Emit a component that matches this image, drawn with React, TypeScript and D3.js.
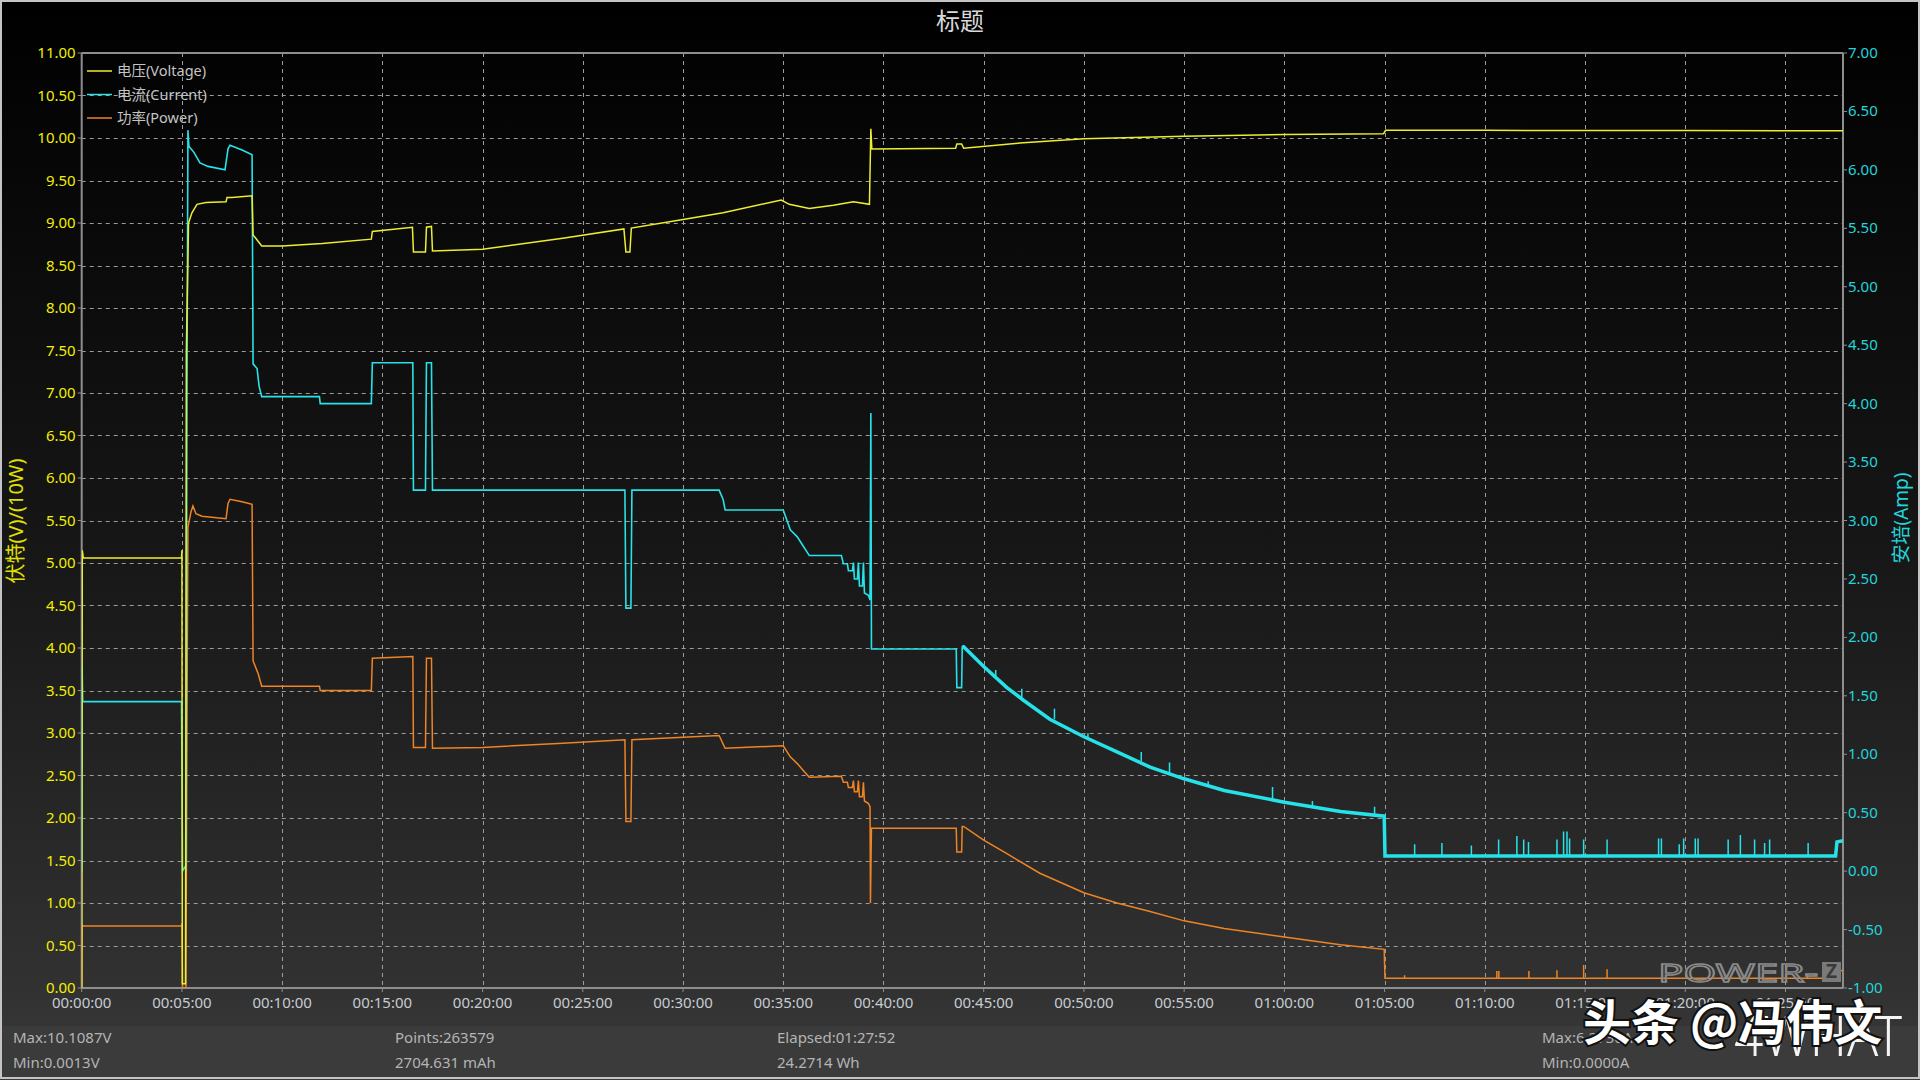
import * as d3 from "d3";

// ---- data (time in minutes) ----
const voltage: [number, number][] = [
  [0, 0], [0.03, 5.15], [0.08, 5.06], [4.98, 5.06], [5.0, 5.15], [5.02, 0.05], [5.18, 0.05],
  [5.22, 7.5], [5.28, 8.3], [5.33, 9.0], [5.5, 9.12], [5.75, 9.22], [6.2, 9.24], [7.2, 9.25],
  [7.25, 9.3], [7.5, 9.3], [8.5, 9.32], [8.55, 8.86], [8.75, 8.8], [8.98, 8.73], [10, 8.73],
  [12, 8.76], [14.45, 8.81], [14.5, 8.9], [16.5, 8.95], [16.55, 8.66], [17.15, 8.66],
  [17.2, 8.95], [17.45, 8.96], [17.5, 8.67], [20, 8.69], [24, 8.82], [27.05, 8.93],
  [27.15, 8.66], [27.35, 8.66], [27.42, 8.94], [30, 9.04], [32, 9.12], [34.9, 9.27],
  [35.3, 9.22], [36.3, 9.17], [37.5, 9.21], [38.5, 9.25], [39.3, 9.22], [39.37, 10.1087],
  [39.42, 9.87], [43.6, 9.88], [43.66, 9.93], [43.9, 9.93], [44.0, 9.88], [46.8, 9.94],
  [50, 9.99], [55, 10.02], [60, 10.04], [64.95, 10.05], [65.05, 10.09], [70, 10.09],
  [80, 10.088], [87.87, 10.085],
];

const current: [number, number][] = [
  [0, 0], [0.02, 1.75], [0.05, 1.45], [4.98, 1.45], [5.03, 0.0], [5.2, 0.05], [5.25, 4.0],
  [5.3, 6.34], [5.35, 6.2], [5.45, 6.18], [5.6, 6.15], [5.9, 6.06], [6.3, 6.03], [7.15, 6.0],
  [7.3, 6.18], [7.4, 6.21], [8.0, 6.17], [8.5, 6.13], [8.55, 4.34], [8.75, 4.3], [8.85, 4.15],
  [8.98, 4.06], [11.86, 4.06], [11.9, 4.0], [14.45, 4.0], [14.5, 4.35], [16.52, 4.35],
  [16.55, 3.26], [17.15, 3.26], [17.2, 4.35], [17.45, 4.35], [17.5, 3.26], [27.1, 3.26],
  [27.15, 2.25], [27.4, 2.25], [27.45, 3.26], [31.8, 3.26], [32.0, 3.18], [32.1, 3.09],
  [35.0, 3.09], [35.35, 2.92], [35.7, 2.86], [36.0, 2.78], [36.3, 2.7], [37.9, 2.7],
  [38.0, 2.63], [38.2, 2.63], [38.25, 2.57], [38.45, 2.57], [38.5, 2.64], [38.55, 2.5],
  [38.7, 2.5], [38.75, 2.64], [38.8, 2.44], [38.95, 2.44], [39.0, 2.64], [39.05, 2.38],
  [39.25, 2.36], [39.33, 2.32], [39.37, 3.92], [39.4, 1.9], [43.63, 1.9], [43.66, 1.57],
  [43.9, 1.57], [43.93, 1.92], [44.0, 1.92], [45, 1.75], [46.16, 1.57], [47, 1.46],
  [48.3, 1.3], [50, 1.15], [51.65, 1.02], [53.3, 0.89], [55, 0.79], [57, 0.69], [60, 0.59],
  [62.8, 0.51], [64.98, 0.47], [65.02, 0.13], [87.5, 0.13], [87.57, 0.25], [87.87, 0.26],
];

// [time, low, high]
const currentSpikes: [number, number, number][] = [
  [45.6, 1.66, 1.72], [46.9, 1.48, 1.56], [48.53, 1.3, 1.39], [50.2, 1.13, 1.18],
  [52.86, 0.94, 1.02], [54.27, 0.84, 0.93], [56.2, 0.72, 0.77], [59.41, 0.61, 0.72],
  [61.4, 0.55, 0.6], [64.5, 0.48, 0.55], [66.5, 0.13, 0.23], [67.86, 0.13, 0.24],
  [69.33, 0.13, 0.22], [70.69, 0.13, 0.27], [71.6, 0.13, 0.3], [71.94, 0.13, 0.27],
  [72.18, 0.13, 0.25], [73.6, 0.13, 0.27], [73.93, 0.13, 0.34], [74.1, 0.13, 0.34],
  [74.23, 0.13, 0.28], [74.93, 0.13, 0.27], [76.1, 0.13, 0.27], [78.67, 0.13, 0.28],
  [78.81, 0.13, 0.28], [79.7, 0.13, 0.23], [79.92, 0.13, 0.28], [80.5, 0.13, 0.28],
  [80.64, 0.13, 0.28], [82.14, 0.13, 0.27], [82.75, 0.13, 0.31], [83.46, 0.13, 0.27],
  [83.96, 0.13, 0.24], [84.21, 0.13, 0.27], [86.13, 0.13, 0.24],
];

// power in units of 10 W (left axis)
const power: [number, number][] = [
  [0, 0], [0.03, 0.74], [0.08, 0.73], [4.98, 0.73], [5.0, 0.76], [5.03, 0], [5.2, 0],
  [5.25, 3.0], [5.3, 5.42], [5.45, 5.6], [5.55, 5.67], [5.7, 5.58], [6.0, 5.55], [7.2, 5.52],
  [7.3, 5.7], [7.4, 5.75], [8.0, 5.72], [8.5, 5.69], [8.55, 3.85], [8.8, 3.7], [8.98, 3.55],
  [11.86, 3.55], [11.9, 3.5], [14.45, 3.5], [14.5, 3.88], [16.52, 3.9], [16.55, 2.83],
  [17.15, 2.83], [17.2, 3.88], [17.45, 3.88], [17.5, 2.82], [20, 2.83], [24, 2.88],
  [27.1, 2.92], [27.15, 1.96], [27.4, 1.96], [27.45, 2.92], [31.8, 2.97], [32.1, 2.82],
  [35.0, 2.85], [35.35, 2.72], [35.7, 2.64], [36.0, 2.56], [36.3, 2.48], [37.9, 2.49],
  [38.0, 2.42], [38.2, 2.42], [38.25, 2.36], [38.45, 2.36], [38.5, 2.44], [38.55, 2.31],
  [38.7, 2.31], [38.75, 2.44], [38.8, 2.25], [38.95, 2.25], [39.0, 2.42], [39.05, 2.2],
  [39.25, 2.17], [39.33, 2.13], [39.35, 1.0], [39.4, 1.88], [43.63, 1.88], [43.66, 1.6],
  [43.9, 1.6], [43.93, 1.9], [44.0, 1.9], [45, 1.74], [46.16, 1.58], [47.8, 1.35],
  [50, 1.12], [51.65, 1.0], [53.3, 0.9], [55, 0.79], [57, 0.7], [60, 0.6], [62.8, 0.51],
  [64.98, 0.455], [65.02, 0.114], [87.6, 0.114], [87.7, 0.2], [87.87, 0.21],
];

const powerSpikes: [number, number, number][] = [
  [66.0, 0.114, 0.15], [70.6, 0.114, 0.2], [70.7, 0.114, 0.2], [72.2, 0.114, 0.2],
  [73.6, 0.114, 0.21], [74.93, 0.114, 0.27], [76.1, 0.114, 0.22], [86.1, 0.114, 0.15],
];

const legendItems = ["电压(Voltage)", "电流(Current)", "功率(Power)"];
const footerColumns = [
  ["Max:10.1087V", "Min:0.0013V"],
  ["Points:263579", "2704.631 mAh"],
  ["Elapsed:01:27:52", "24.2714 Wh"],
  ["Max:6.2730A", "Min:0.0000A"],
];
const elapsedMinutes = 87.87;

const W = 1920;
const H = 1080;
const plot = { left: 81.7, right: 1843, top: 53, bottom: 988 };
const FONT = "'Noto Sans', 'Noto Sans CJK SC', sans-serif";
const C_V = "#eeee30";
const C_I = "#27e2e8";
const C_P = "#ee8424";

const pad2 = (n: number) => String(n).padStart(2, "0");
const fmtTime = (m: number) => `${pad2(Math.floor(m / 60))}:${pad2(m % 60)}:00`;

export default function App() {
  const x = d3.scaleLinear().domain([0, elapsedMinutes]).range([plot.left, plot.right]);
  const yL = d3.scaleLinear().domain([0, 11]).range([plot.bottom, plot.top]);
  const yR = d3.scaleLinear().domain([-1, 7]).range([plot.bottom, plot.top]);

  const lineL = d3.line<[number, number]>().x((d) => x(d[0])).y((d) => yL(d[1]));
  const lineR = d3.line<[number, number]>().x((d) => x(d[0])).y((d) => yR(d[1]));

  const xTicks = d3.range(0, 90, 5);
  const lTicks = d3.range(0, 11.001, 0.5);
  const rTicks = d3.range(-1, 7.001, 0.5);

  const spikePath = (s: [number, number, number][], y: d3.ScaleLinear<number, number>) =>
    s.map((d) => `M${x(d[0])},${y(d[1])}V${y(d[2])}`).join("");

  // the charger's noisy taper section is drawn as a wider band
  const currentNoisy = current.filter((d) => d[0] >= 43.93);
  const footerX = [13, 395, 777, 1542];

  return (
    <div style={{ position: "absolute", left: 0, top: 0 }}>
      <svg width={W} height={H} style={{ display: "block", fontFamily: FONT }}>
        <defs>
          <linearGradient id="bg" x1="0" y1="0" x2="0" y2="1">
            <stop offset="0%" stopColor="#000000" />
            <stop offset="50%" stopColor="#161616" />
            <stop offset="91%" stopColor="#313131" />
            <stop offset="100%" stopColor="#3a3a3a" />
          </linearGradient>
          <clipPath id="plotClip">
            <rect x={plot.left} y={plot.top - 2} width={plot.right - plot.left} height={plot.bottom - plot.top + 2} />
          </clipPath>
        </defs>
        <rect x={0} y={0} width={W} height={H} fill="url(#bg)" />
        <rect x={0} y={1026} width={W} height={52} fill="#3b3b3b" />
        <rect x={1} y={1} width={W - 2} height={H - 3} fill="none" stroke="#c4c4c4" strokeWidth={2} />

        <text x={W / 2} y={30} textAnchor="middle" fill="#d8d8d8" fontSize={24}>标题</text>

        {/* grid */}
        <g stroke="#9c9c9c" strokeWidth={1} strokeDasharray="4 4">
          {lTicks.filter((v) => v > 0 && v < 11).map((v) => (
            <line key={"h" + v} x1={plot.left} x2={plot.right} y1={Math.round(yL(v)) + 0.5} y2={Math.round(yL(v)) + 0.5} />
          ))}
          {xTicks.filter((t) => t > 0).map((t) => (
            <line key={"v" + t} x1={Math.round(x(t)) + 0.5} x2={Math.round(x(t)) + 0.5} y1={plot.top} y2={plot.bottom} />
          ))}
        </g>

        {/* frame */}
        <g stroke="#8e8e8e" strokeWidth={2} fill="none">
          <line x1={plot.left} x2={plot.right} y1={plot.top} y2={plot.top} />
          <line x1={plot.left} x2={plot.right} y1={plot.bottom} y2={plot.bottom} />
          <line x1={plot.left} x2={plot.left} y1={plot.top} y2={plot.bottom} />
          <line x1={plot.right} x2={plot.right} y1={plot.top} y2={plot.bottom} />
        </g>

        {/* left axis */}
        {lTicks.map((v) => (
          <g key={"lt" + v}>
            <line x1={plot.left - 4} x2={plot.left} y1={yL(v)} y2={yL(v)} stroke="#8e8e8e" />
            <text x={plot.left - 6} y={yL(v) + 5} textAnchor="end" fill="#f0f000" fontSize={15}>{v.toFixed(2)}</text>
          </g>
        ))}
        <text transform="translate(23,521) rotate(-90)" textAnchor="middle" fill="#e0e000" fontSize={20}>
          伏特(V)/(10W)
        </text>

        {/* right axis */}
        {rTicks.map((v) => (
          <g key={"rt" + v}>
            <line x1={plot.right} x2={plot.right + 4} y1={yR(v)} y2={yR(v)} stroke="#8e8e8e" />
            <text x={plot.right + 5} y={yR(v) + 5} textAnchor="start" fill="#22d4dc" fontSize={15}>{v.toFixed(2)}</text>
          </g>
        ))}
        <text transform="translate(1908,518) rotate(-90)" textAnchor="middle" fill="#22d4dc" fontSize={19}>
          安培(Amp)
        </text>

        {/* bottom axis */}
        {xTicks.map((t) => (
          <g key={"xt" + t}>
            <line x1={x(t)} x2={x(t)} y1={plot.bottom} y2={plot.bottom + 4} stroke="#8e8e8e" />
            <text x={x(t)} y={plot.bottom + 20} textAnchor="middle" fill="#c6ccd2" fontSize={15}>{fmtTime(t)}</text>
          </g>
        ))}

        {/* series */}
        <g clipPath="url(#plotClip)" fill="none" strokeLinejoin="miter">
          <path d={lineL(power) ?? ""} stroke={C_P} strokeWidth={1.5} />
          <path d={spikePath(powerSpikes, yL)} stroke={C_P} strokeWidth={1.5} />
          <path d={lineR(currentNoisy) ?? ""} stroke={C_I} strokeWidth={3.5} />
          <path d={lineR(current) ?? ""} stroke={C_I} strokeWidth={1.6} />
          <path d={spikePath(currentSpikes, yR)} stroke={C_I} strokeWidth={1.5} />
          <path d={lineL(voltage) ?? ""} stroke={C_V} strokeWidth={1.5} />
        </g>

        {/* legend */}
        {legendItems.map((name, i) => (
          <g key={name} transform={`translate(87,${71 + i * 23.5})`}>
            <line x1={0} x2={25} y1={0} y2={0} stroke={[C_V, C_I, C_P][i]} strokeWidth={1.5} />
            <text x={30} y={5} fill="#c4c4c4" fontSize={14.5}>{name}</text>
          </g>
        ))}

        {/* POWER-Z mark */}
        <text x={1658} y={982} fill="none" stroke="#8a8a8a" strokeWidth={1.4} fontSize={26}
          textLength={160} lengthAdjust="spacingAndGlyphs">
          POWER-
        </text>
        <rect x={1822} y={962} width={19} height={20} fill="#7a7a7a" />
        <text x={1831.5} y={978} textAnchor="middle" fill="#3a3a3a" fontSize={19} fontWeight={700}>Z</text>

        {/* footer */}
        {footerColumns.map((col, i) =>
          col.map((s, j) => (
            <text key={s} x={footerX[i]} y={1043 + j * 25} fill="#b4b4b4" fontSize={15}>{s}</text>
          ))
        )}

        {/* watermark */}
        <text x={1734} y={1056} fill="#f4f4f4" fontSize={56} fontWeight={300}
          textLength={168} lengthAdjust="spacingAndGlyphs">4WHAT</text>
        <text x={1583} y={1040} fill="#ffffff" stroke="#111" strokeWidth={4} paintOrder="stroke" fontSize={48} fontWeight={700}
          style={{ fontFamily: "'Noto Sans CJK SC', sans-serif" }}>
          头条 @冯伟文
        </text>
      </svg>
    </div>
  );
}
